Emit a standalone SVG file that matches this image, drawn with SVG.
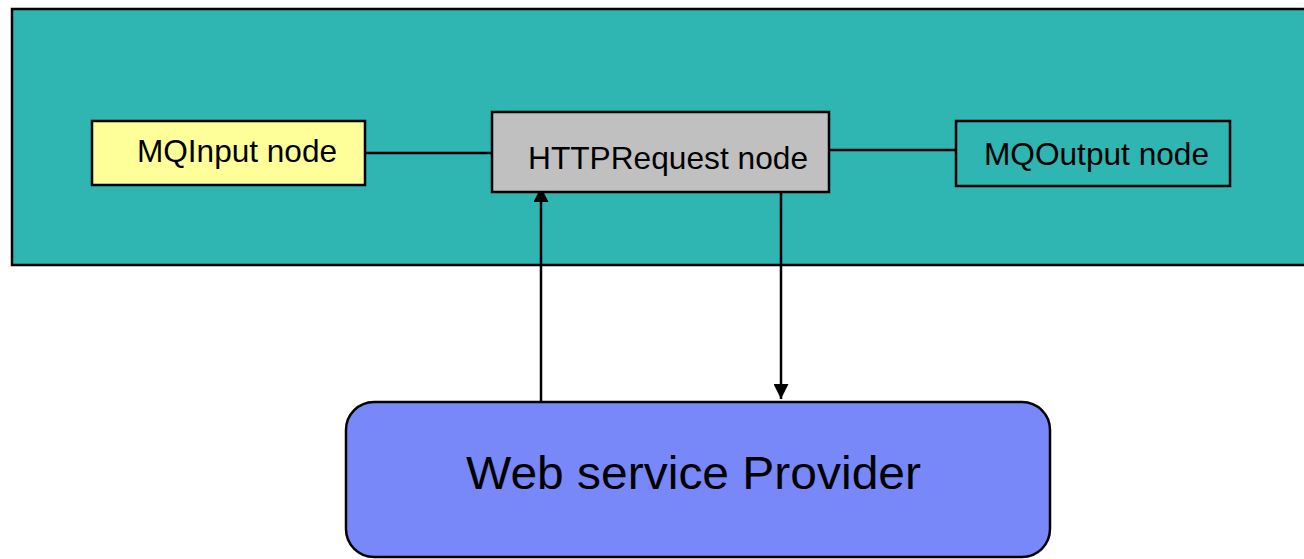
<svg xmlns="http://www.w3.org/2000/svg" width="1304" height="559" viewBox="0 0 1304 559">
<style>
text{font-family:"Liberation Sans",Arial,sans-serif;fill:#000}
.box{stroke:#000;stroke-width:2.5}
.conn{stroke:#000;stroke-width:2.5;fill:none}
</style>
<defs>
<marker id="arr" viewBox="0 0 10 10" refX="10" refY="5" markerWidth="6" markerHeight="6" orient="auto" markerUnits="strokeWidth">
<path d="M0,0 L10,5 L0,10 Z" fill="#000"/>
</marker>
</defs>
<rect width="1304" height="559" fill="#fff"/>
<g id="broker">
<rect x="12" y="9" width="1300" height="256" fill="#2FB5B2" class="box"/>
</g>
<g id="connectors">
<line x1="365" y1="153" x2="492" y2="153" class="conn"/>
<line x1="829" y1="150" x2="959" y2="150" class="conn"/>
<line x1="541" y1="406" x2="541" y2="187" class="conn" marker-end="url(#arr)"/>
<line x1="781" y1="192" x2="781" y2="399" class="conn" marker-end="url(#arr)"/>
</g>
<g id="mqinput">
<rect x="92" y="121" width="273" height="64" fill="#FFFF99" class="box"/>
<text x="137" y="162" font-size="31.5" textLength="200" lengthAdjust="spacingAndGlyphs">MQInput node</text>
</g>
<g id="httprequest">
<rect x="492" y="112" width="337" height="80" fill="#C0C0C0" class="box"/>
<text x="528" y="169" font-size="32" textLength="280" lengthAdjust="spacingAndGlyphs">HTTPRequest node</text>
</g>
<g id="mqoutput">
<rect x="956" y="121" width="274" height="65" fill="#2FB5B2" class="box"/>
<text x="984" y="165" font-size="32" textLength="225" lengthAdjust="spacingAndGlyphs">MQOutput node</text>
</g>
<g id="provider">
<rect x="346" y="402" width="704" height="155" rx="28" ry="28" fill="#7888F8" class="box"/>
<text x="466" y="489" font-size="46.5" textLength="455" lengthAdjust="spacingAndGlyphs">Web service Provider</text>
</g>
</svg>
